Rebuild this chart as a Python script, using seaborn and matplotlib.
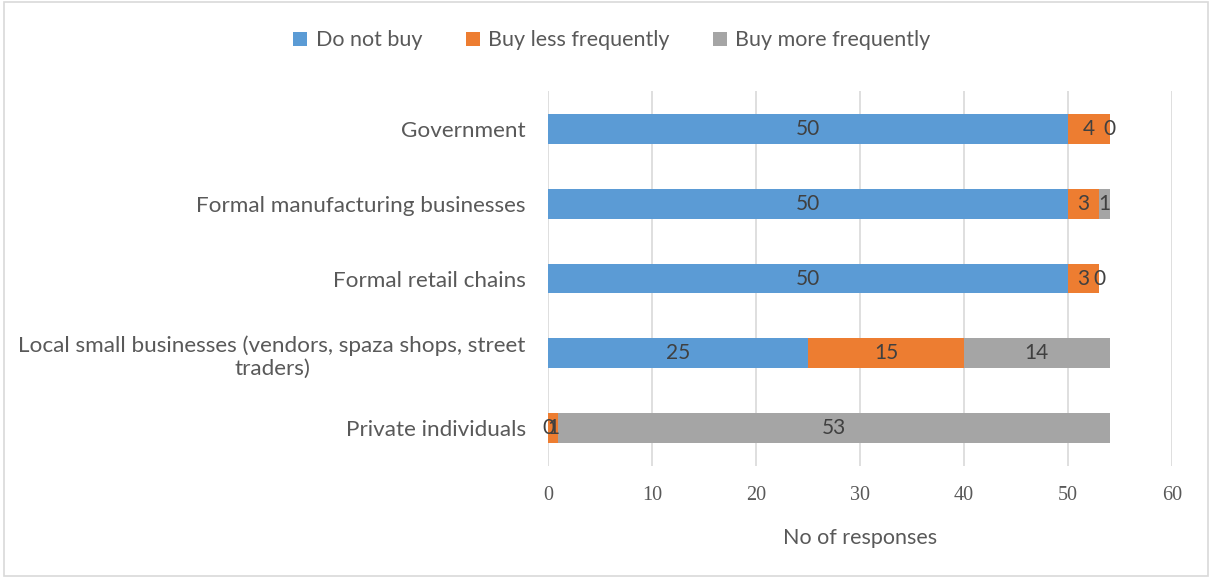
import matplotlib
matplotlib.use("Agg")
import matplotlib.pyplot as plt
import seaborn as sns
import pandas as pd
import numpy as np
from matplotlib.patches import Patch, Rectangle

categories = [
    "Government",
    "Formal manufacturing businesses",
    "Formal retail chains",
    "Local small businesses (vendors, spaza shops, street\ntraders)",
    "Private individuals",
]
do_not_buy = [50, 50, 50, 25, 0]
buy_less = [4, 3, 3, 15, 1]
buy_more = [0, 1, 0, 14, 53]
series_names = ["Do not buy", "Buy less frequently", "Buy more frequently"]
x_ticks = [0, 10, 20, 30, 40, 50, 60]

colors = ["#5B9BD5", "#ED7D31", "#A5A5A5"]
text_color = "#595959"

sns.set_theme(style="white")
plt.rcParams["font.family"] = ["Lato", "DejaVu Sans"]

fig = plt.figure(figsize=(12.12, 5.78), dpi=100)
ax = fig.add_axes([0.4521, 0.1946, 0.5149, 0.6471])

vals = np.array([do_not_buy, buy_less, buy_more], dtype=float)
cum = np.cumsum(vals, axis=0)

df = pd.DataFrame({
    "category": categories,
    "c0": cum[0], "c1": cum[1], "c2": cum[2],
})

# layered cumulative bars produce the stacked look
for col, color in zip(["c2", "c1", "c0"], colors[::-1]):
    sns.barplot(data=df, y="category", x=col, orient="h", color=color,
                width=0.4, ax=ax, saturation=1, linewidth=0)

# segment value labels
for i in range(len(categories)):
    start = 0
    for s in range(3):
        v = vals[s, i]
        ax.text(start + v / 2, i, f"{int(v)}", ha="center", va="center",
                fontsize=15, color="#404040")
        start += v

ax.set_xlim(0, 60)
ax.set_ylim(4.5, -0.5)
ax.set_xticks(x_ticks)
ax.set_xticklabels([str(t) for t in x_ticks], family="Liberation Serif",
                   fontsize=14.5, color=text_color)
ax.tick_params(axis="x", length=0, pad=15)
ax.tick_params(axis="y", length=0, pad=16)
for lbl in ax.get_yticklabels():
    lbl.set_fontsize(16.2)
    lbl.set_color(text_color)
    lbl.set_multialignment("center")
ax.set_ylabel("")
ax.set_xlabel("No of responses", fontsize=15.5, color=text_color, labelpad=16)
ax.xaxis.grid(True, color="#D9D9D9", linewidth=1.2)
ax.set_axisbelow(True)
for sp in ax.spines.values():
    sp.set_visible(False)

handles = [Patch(facecolor=c, edgecolor="none") for c in colors]
fig.legend(handles, series_names, loc="center", bbox_to_anchor=(0.505, 0.93),
           ncol=3, frameon=False, fontsize=15.5, handlelength=0.65,
           handleheight=0.65, handletextpad=0.4, columnspacing=2.0,
           labelcolor=text_color)

fig.patches.append(Rectangle((0.003, 0.004), 0.994, 0.992, transform=fig.transFigure,
                             fill=False, edgecolor="#D9D9D9", linewidth=1.2))

fig.savefig("out.png", dpi=100, facecolor="white")
